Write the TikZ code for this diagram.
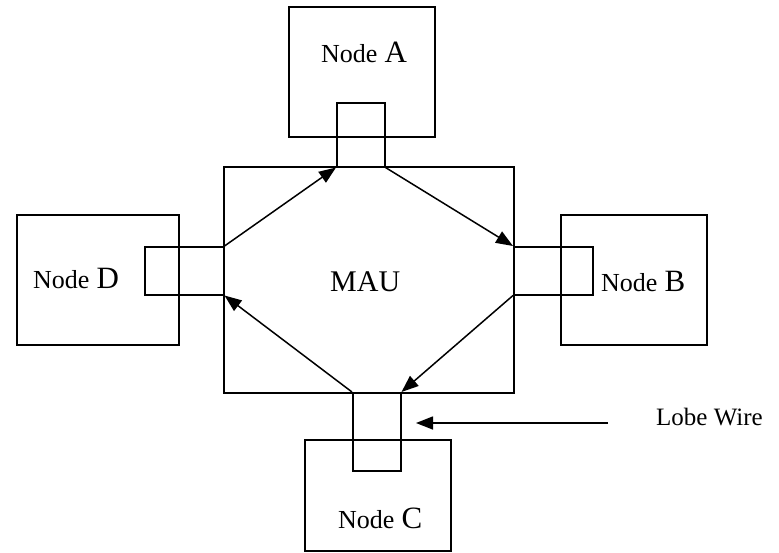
\documentclass[tikz,border=0pt]{standalone}
\usepackage{fontspec}
\setmainfont{Liberation Serif}
\usetikzlibrary{arrows.meta}
\tikzset{
  box/.style={draw, line width=1.5pt, rectangle, inner sep=0pt, anchor=north west},
  port/.style={draw, line width=1.5pt, rectangle, inner sep=0pt, anchor=north west},
  flow/.style={line width=1.5pt, -{Triangle[length=17pt,width=13pt]}},
  lbl/.style={inner sep=0pt, anchor=base west},
}
\newcommand{\nodelabel}[1]{{\fontsize{26}{31}\selectfont Node}\hspace{7pt}{\fontsize{31}{37}\selectfont #1}}
\begin{document}
\begin{tikzpicture}[x=1pt, y=-1pt]
  \useasboundingbox (0,0) rectangle (779,552);

  % stations and the multistation access unit
  \node[box, minimum width=146pt, minimum height=130pt] (nA) at (288,6) {};
  \node[box, minimum width=162pt, minimum height=130pt] (nD) at (16,214) {};
  \node[box, minimum width=146pt, minimum height=130pt] (nB) at (560,214) {};
  \node[box, minimum width=146pt, minimum height=111pt] (nC) at (304,439) {};
  \node[box, minimum width=290pt, minimum height=226pt] (mau) at (223,166) {};

  % lobe connectors
  \node[port, minimum width=48pt, minimum height=64pt] (pA) at (336,102) {};
  \node[port, minimum width=79pt, minimum height=48pt] (pD) at (144,246) {};
  \node[port, minimum width=79pt, minimum height=48pt] (pB) at (513,246) {};
  \node[port, minimum width=48pt, minimum height=78pt] (pC) at (352,392) {};

  % labels
  \node[lbl] (tA) at (321,62) {\nodelabel{A}};
  \node[lbl] (tD) at (33,288) {\nodelabel{D}};
  \node[lbl] (tB) at (601,291) {\nodelabel{B}};
  \node[lbl] (tC) at (338,528) {\nodelabel{C}};
  \node[lbl] (tM) at (330,291) {\fontsize{30}{36}\selectfont MAU};
  \node[lbl] (lobe) at (656,425) {\fontsize{25}{30}\selectfont Lobe Wire};

  % ring path through the access unit
  \draw[flow] (pD.north east) -- (pA.south west);
  \draw[flow] (pA.south east) -- (pB.north west);
  \draw[flow] (pB.south west) -- (pC.north east);
  \draw[flow] (pC.north west) -- (pD.south east);

  % pointer to the lobe wire
  \coordinate (lobeTail) at (608,423);
  \coordinate (lobeHead) at (416,423);
  \draw[flow] (lobeTail) -- (lobeHead);
\end{tikzpicture}
\end{document}
